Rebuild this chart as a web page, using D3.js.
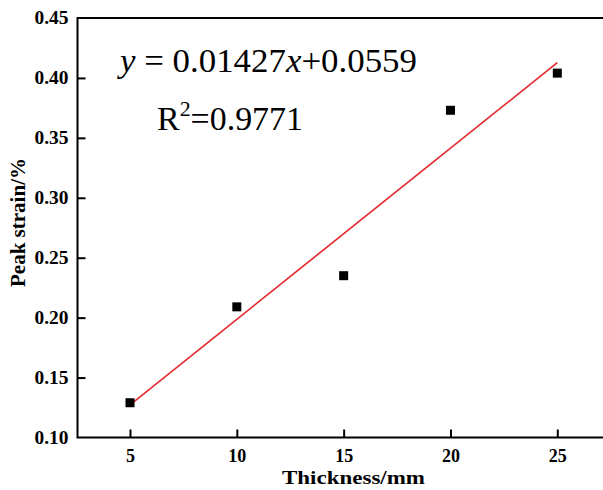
<!DOCTYPE html>
<html>
<head>
<meta charset="utf-8">
<script src="https://cdn.jsdelivr.net/npm/d3@7"></script>
<style>
  body { margin: 0; background: #fff; }
  svg text { font-family: "Liberation Serif", "Times New Roman", serif; }
</style>
</head>
<body>
<div id="chart"></div>
<script>
// data
const thickness = [5, 10, 15, 20, 25];
const peakStrain = [0.129, 0.209, 0.235, 0.373, 0.404];
const fitX = [5, 25];
const fitY = [0.1273, 0.4127];
const xTicks = [5, 10, 15, 20, 25];
const yTicks = [0.10, 0.15, 0.20, 0.25, 0.30, 0.35, 0.40, 0.45];

const width = 603, height = 490;
const plotLeft = 77.5, plotTop = 18, plotBottom = 437.5;

const svg = d3.select("#chart")
  .append("svg")
  .attr("width", width)
  .attr("height", height);

const x = d3.scaleLinear().domain([5, 25]).range([130, 557.3]);
const y = d3.scaleLinear().domain([0.10, 0.45]).range([plotBottom, plotTop]);

// frame (right side runs off the picture)
const plotRight = x(27.5);
svg.append("rect")
  .attr("x", plotLeft).attr("y", plotTop)
  .attr("width", plotRight - plotLeft).attr("height", plotBottom - plotTop)
  .attr("fill", "none").attr("stroke", "#000").attr("stroke-width", 2);

// axes with inward ticks
const xAxis = svg.append("g")
  .attr("transform", `translate(0,${plotBottom})`)
  .call(d3.axisBottom(x).tickValues(xTicks).tickSizeInner(-8).tickSizeOuter(0).tickPadding(12));
const yAxis = svg.append("g")
  .attr("transform", `translate(${plotLeft},0)`)
  .call(d3.axisLeft(y).tickValues(yTicks).tickSizeInner(-8).tickSizeOuter(0).tickPadding(9).tickFormat(d3.format(".2f")));

[xAxis, yAxis].forEach(ax => {
  ax.select(".domain").remove();
  ax.selectAll(".tick line").attr("stroke-width", 2);
  ax.selectAll(".tick text")
    .attr("fill", "#000")
    .style("font-size", "18px")
    .style("font-weight", "bold");
});
yAxis.selectAll(".tick text").attr("textLength", 34).attr("lengthAdjust", "spacingAndGlyphs");
// drop tick marks that sit on the frame corners
yAxis.selectAll(".tick").filter(d => d === 0.10 || d === 0.45).select("line").remove();

// fitted line
svg.append("path")
  .datum(fitX.map((d, i) => [d, fitY[i]]))
  .attr("d", d3.line().x(d => x(d[0])).y(d => y(d[1])))
  .attr("fill", "none")
  .attr("stroke", "#e0262b")
  .attr("stroke-width", 1.6);

// points
const s = 9;
svg.append("g")
  .selectAll("rect")
  .data(thickness)
  .join("rect")
  .attr("x", (d) => x(d) - s / 2)
  .attr("y", (d, i) => y(peakStrain[i]) - s / 2)
  .attr("width", s)
  .attr("height", s)
  .attr("fill", "#000");

// equation
const eq = svg.append("text")
  .attr("x", 120).attr("y", 72)
  .attr("textLength", 297).attr("lengthAdjust", "spacingAndGlyphs")
  .style("font-size", "34px");
eq.append("tspan").style("font-style", "italic").text("y");
eq.append("tspan").text(" = 0.01427");
eq.append("tspan").style("font-style", "italic").text("x");
eq.append("tspan").text("+0.0559");

const r2 = svg.append("text")
  .attr("x", 157).attr("y", 130)
  .attr("textLength", 146).attr("lengthAdjust", "spacingAndGlyphs")
  .style("font-size", "34px");
r2.append("tspan").text("R");
r2.append("tspan").attr("dy", -14).style("font-size", "22px").text("2");
r2.append("tspan").attr("dy", 14).text("=0.9771");

// axis titles
svg.append("text")
  .attr("x", 282).attr("y", 484)
  .attr("textLength", 143).attr("lengthAdjust", "spacingAndGlyphs")
  .style("font-size", "19px").style("font-weight", "bold")
  .text("Thickness/mm");

svg.append("text")
  .attr("transform", "translate(25,287) rotate(-90)")
  .attr("textLength", 129).attr("lengthAdjust", "spacingAndGlyphs")
  .style("font-size", "20px").style("font-weight", "bold")
  .text("Peak strain/%");
</script>
</body>
</html>
